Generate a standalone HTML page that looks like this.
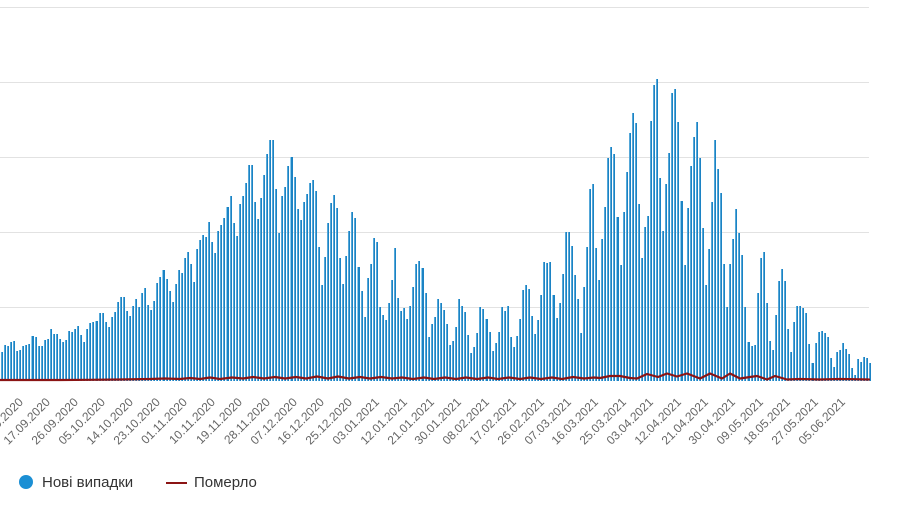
<!DOCTYPE html>
<html><head><meta charset="utf-8">
<style>
html,body{margin:0;padding:0;background:#fff;}
body{width:900px;height:505px;position:relative;overflow:hidden;font-family:"Liberation Sans",Arial,sans-serif;}
.g{position:absolute;left:0;width:869px;height:1px;background:#e2e2e2;}
#bars{position:absolute;left:0;top:0;width:870px;height:381px;display:flex;align-items:flex-end;}
#bars i{flex:1 1 0;display:block;background:linear-gradient(90deg,rgba(255,255,255,0) 0,rgba(255,255,255,0) 27%,#8ccbed 27%,#8ccbed 50%,#1c83c4 50%,#1c83c4 100%);}
.l{position:absolute;top:393px;width:100px;height:14px;line-height:14px;font-size:12px;color:#666;text-align:right;white-space:nowrap;transform-origin:100% 50%;transform:rotate(-45deg);}
.lg{position:absolute;top:474px;font-size:15px;line-height:18px;color:#333;white-space:nowrap;}
</style></head>
<body>
<div class="g" style="top:7px"></div>
<div class="g" style="top:82px"></div>
<div class="g" style="top:157px"></div>
<div class="g" style="top:232px"></div>
<div class="g" style="top:307px"></div>

<div id="bars">
<i style="height:29px"></i><i style="height:36px"></i><i style="height:35px"></i><i style="height:39px"></i><i style="height:40px"></i><i style="height:30px"></i><i style="height:31px"></i><i style="height:35px"></i><i style="height:36px"></i><i style="height:37px"></i>
<i style="height:45px"></i><i style="height:44px"></i><i style="height:35px"></i><i style="height:35px"></i><i style="height:41px"></i><i style="height:42px"></i><i style="height:52px"></i><i style="height:47px"></i><i style="height:47px"></i><i style="height:42px"></i>
<i style="height:39px"></i><i style="height:41px"></i><i style="height:50px"></i><i style="height:49px"></i><i style="height:52px"></i><i style="height:55px"></i><i style="height:46px"></i><i style="height:39px"></i><i style="height:52px"></i><i style="height:58px"></i>
<i style="height:59px"></i><i style="height:60px"></i><i style="height:68px"></i><i style="height:68px"></i><i style="height:59px"></i><i style="height:54px"></i><i style="height:64px"></i><i style="height:69px"></i><i style="height:79px"></i><i style="height:84px"></i>
<i style="height:84px"></i><i style="height:70px"></i><i style="height:65px"></i><i style="height:75px"></i><i style="height:82px"></i><i style="height:74px"></i><i style="height:88px"></i><i style="height:93px"></i><i style="height:76px"></i><i style="height:71px"></i>
<i style="height:80px"></i><i style="height:98px"></i><i style="height:104px"></i><i style="height:111px"></i><i style="height:102px"></i><i style="height:90px"></i><i style="height:79px"></i><i style="height:97px"></i><i style="height:111px"></i><i style="height:108px"></i>

<i style="height:123px"></i><i style="height:129px"></i><i style="height:117px"></i><i style="height:99px"></i><i style="height:132px"></i><i style="height:141px"></i><i style="height:146px"></i><i style="height:144px"></i><i style="height:159px"></i><i style="height:139px"></i>
<i style="height:128px"></i><i style="height:150px"></i><i style="height:156px"></i><i style="height:163px"></i><i style="height:174px"></i><i style="height:185px"></i><i style="height:158px"></i><i style="height:145px"></i><i style="height:177px"></i><i style="height:185px"></i>
<i style="height:198px"></i><i style="height:216px"></i><i style="height:216px"></i><i style="height:179px"></i><i style="height:162px"></i><i style="height:183px"></i><i style="height:206px"></i><i style="height:227px"></i><i style="height:241px"></i><i style="height:241px"></i>
<i style="height:192px"></i><i style="height:148px"></i><i style="height:185px"></i><i style="height:194px"></i><i style="height:215px"></i><i style="height:224px"></i><i style="height:204px"></i><i style="height:172px"></i><i style="height:161px"></i><i style="height:179px"></i>
<i style="height:187px"></i><i style="height:198px"></i><i style="height:201px"></i><i style="height:190px"></i><i style="height:134px"></i><i style="height:96px"></i><i style="height:124px"></i><i style="height:158px"></i><i style="height:178px"></i><i style="height:186px"></i>
<i style="height:173px"></i><i style="height:123px"></i><i style="height:97px"></i><i style="height:125px"></i><i style="height:150px"></i><i style="height:169px"></i><i style="height:163px"></i><i style="height:114px"></i><i style="height:90px"></i>

<i style="height:64px"></i><i style="height:103px"></i><i style="height:117px"></i><i style="height:143px"></i><i style="height:139px"></i><i style="height:74px"></i><i style="height:66px"></i><i style="height:61px"></i><i style="height:78px"></i><i style="height:101px"></i>
<i style="height:133px"></i><i style="height:83px"></i><i style="height:70px"></i><i style="height:73px"></i><i style="height:62px"></i><i style="height:75px"></i><i style="height:94px"></i><i style="height:117px"></i><i style="height:120px"></i><i style="height:113px"></i>
<i style="height:88px"></i><i style="height:44px"></i><i style="height:57px"></i><i style="height:64px"></i><i style="height:82px"></i><i style="height:78px"></i><i style="height:71px"></i><i style="height:57px"></i><i style="height:36px"></i><i style="height:40px"></i>
<i style="height:54px"></i><i style="height:82px"></i><i style="height:75px"></i><i style="height:69px"></i><i style="height:46px"></i><i style="height:28px"></i><i style="height:34px"></i><i style="height:48px"></i><i style="height:74px"></i><i style="height:72px"></i>
<i style="height:62px"></i><i style="height:49px"></i><i style="height:30px"></i><i style="height:38px"></i><i style="height:49px"></i><i style="height:74px"></i><i style="height:70px"></i><i style="height:75px"></i><i style="height:44px"></i><i style="height:34px"></i>
<i style="height:45px"></i><i style="height:62px"></i><i style="height:91px"></i><i style="height:96px"></i><i style="height:92px"></i><i style="height:65px"></i><i style="height:47px"></i><i style="height:61px"></i><i style="height:86px"></i>

<i style="height:119px"></i><i style="height:118px"></i><i style="height:119px"></i><i style="height:86px"></i><i style="height:63px"></i><i style="height:78px"></i><i style="height:107px"></i><i style="height:149px"></i><i style="height:149px"></i><i style="height:135px"></i>
<i style="height:106px"></i><i style="height:82px"></i><i style="height:48px"></i><i style="height:94px"></i><i style="height:134px"></i><i style="height:192px"></i><i style="height:197px"></i><i style="height:133px"></i><i style="height:101px"></i><i style="height:142px"></i>
<i style="height:174px"></i><i style="height:223px"></i><i style="height:234px"></i><i style="height:227px"></i><i style="height:164px"></i><i style="height:116px"></i><i style="height:169px"></i><i style="height:209px"></i><i style="height:248px"></i><i style="height:268px"></i>
<i style="height:258px"></i><i style="height:177px"></i><i style="height:123px"></i><i style="height:154px"></i><i style="height:165px"></i><i style="height:260px"></i><i style="height:296px"></i><i style="height:302px"></i><i style="height:203px"></i><i style="height:150px"></i>
<i style="height:197px"></i><i style="height:228px"></i><i style="height:288px"></i><i style="height:292px"></i><i style="height:259px"></i><i style="height:180px"></i><i style="height:116px"></i><i style="height:173px"></i><i style="height:215px"></i><i style="height:244px"></i>
<i style="height:259px"></i><i style="height:223px"></i><i style="height:153px"></i><i style="height:96px"></i><i style="height:132px"></i><i style="height:179px"></i><i style="height:241px"></i><i style="height:212px"></i><i style="height:188px"></i>

<i style="height:117px"></i><i style="height:74px"></i><i style="height:117px"></i><i style="height:142px"></i><i style="height:172px"></i><i style="height:148px"></i><i style="height:126px"></i><i style="height:74px"></i><i style="height:39px"></i><i style="height:35px"></i>
<i style="height:36px"></i><i style="height:88px"></i><i style="height:123px"></i><i style="height:129px"></i><i style="height:78px"></i><i style="height:40px"></i><i style="height:31px"></i><i style="height:66px"></i><i style="height:100px"></i><i style="height:112px"></i>
<i style="height:100px"></i><i style="height:52px"></i><i style="height:29px"></i><i style="height:59px"></i><i style="height:75px"></i><i style="height:75px"></i><i style="height:73px"></i><i style="height:68px"></i><i style="height:37px"></i><i style="height:18px"></i>
<i style="height:38px"></i><i style="height:49px"></i><i style="height:50px"></i><i style="height:48px"></i><i style="height:44px"></i><i style="height:23px"></i><i style="height:14px"></i><i style="height:29px"></i><i style="height:31px"></i><i style="height:38px"></i>
<i style="height:32px"></i><i style="height:27px"></i><i style="height:13px"></i><i style="height:6px"></i><i style="height:22px"></i><i style="height:19px"></i><i style="height:24px"></i><i style="height:23px"></i><i style="height:18px"></i>
</div>

<svg width="900" height="505" style="position:absolute;left:0;top:0" xmlns="http://www.w3.org/2000/svg">
<polyline fill="none" stroke="#8b1414" stroke-width="2.2" stroke-linejoin="round" stroke-linecap="round" points="0,380 30,380 60,380 90,379.8 120,379.5 150,379 165,378.5 180,379 190,378 200,379 210,377.5 220,379 232,377.5 243,378.5 253,377 264,378.5 275,377 285,378.5 296,377 306,378.5 317,376.5 328,378.5 338,376.5 349,378.5 360,377 370,378.5 381,377 392,378.5 402,377.5 413,379 424,377.5 434,379 445,377.5 456,379 466,377.5 477,379 488,377.5 498,379 509,377.5 520,379 530,377.5 541,379 552,377.5 562,379 573,377 584,378.5 594,377.5 600,378 610,376 620,376 630,378 637,378.5 647,374 658,377 667,373.5 677,376.5 687,373.5 700,378.5 710,373.5 722,378.5 730,373.5 740,378.5 750,377 757,376 767,379.5 775,376 787,379.5 800,379 820,379.5 840,379 869,379.5"/>
</svg>

<div class="l" style="left:-79px">08.09.2020</div>
<div class="l" style="left:-51.6px">17.09.2020</div>
<div class="l" style="left:-24.2px">26.09.2020</div>
<div class="l" style="left:3.2px">05.10.2020</div>
<div class="l" style="left:30.6px">14.10.2020</div>
<div class="l" style="left:58px">23.10.2020</div>
<div class="l" style="left:85.4px">01.11.2020</div>
<div class="l" style="left:112.8px">10.11.2020</div>
<div class="l" style="left:140.2px">19.11.2020</div>
<div class="l" style="left:167.6px">28.11.2020</div>
<div class="l" style="left:195px">07.12.2020</div>
<div class="l" style="left:222.4px">16.12.2020</div>
<div class="l" style="left:249.8px">25.12.2020</div>
<div class="l" style="left:277.2px">03.01.2021</div>
<div class="l" style="left:304.6px">12.01.2021</div>
<div class="l" style="left:332px">21.01.2021</div>
<div class="l" style="left:359.4px">30.01.2021</div>
<div class="l" style="left:386.8px">08.02.2021</div>
<div class="l" style="left:414.2px">17.02.2021</div>
<div class="l" style="left:441.6px">26.02.2021</div>
<div class="l" style="left:469px">07.03.2021</div>
<div class="l" style="left:496.4px">16.03.2021</div>
<div class="l" style="left:523.8px">25.03.2021</div>
<div class="l" style="left:551.2px">03.04.2021</div>
<div class="l" style="left:578.6px">12.04.2021</div>
<div class="l" style="left:606px">21.04.2021</div>
<div class="l" style="left:633.4px">30.04.2021</div>
<div class="l" style="left:660.8px">09.05.2021</div>
<div class="l" style="left:688.2px">18.05.2021</div>
<div class="l" style="left:715.6px">27.05.2021</div>
<div class="l" style="left:743px">05.06.2021</div>

<div style="position:absolute;left:19px;top:475px;width:14px;height:14px;border-radius:50%;background:#1b8fd4;"></div>
<div class="lg" style="left:42px">Нові випадки</div>
<div style="position:absolute;left:166px;top:481.5px;width:21px;height:2.5px;background:#8b1414;"></div>
<div class="lg" style="left:194px">Померло</div>
</body></html>
